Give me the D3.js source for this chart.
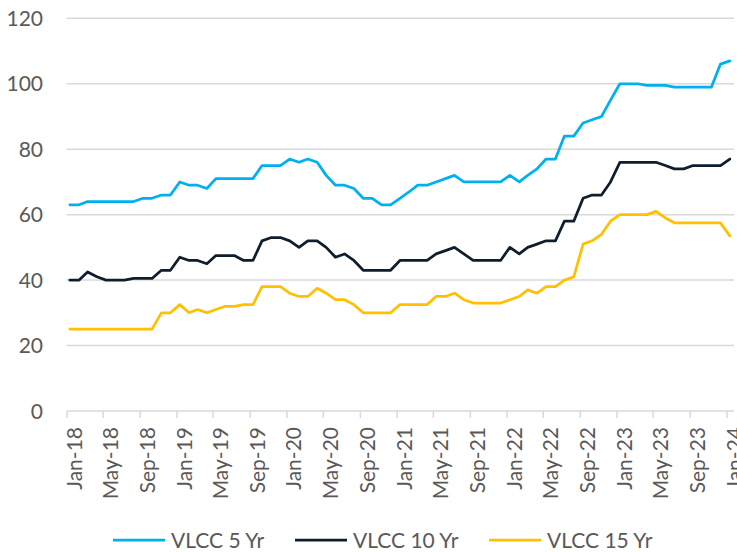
<!DOCTYPE html>
<html>
<head>
<meta charset="utf-8">
<script src="https://cdn.jsdelivr.net/npm/d3@7"></script>
<style>
  html, body { margin: 0; padding: 0; background: #ffffff; }
  svg { display: block; }
  text { font-family: Lato, "Open Sans", sans-serif; fill: #595959; }
</style>
</head>
<body>
<svg id="chart" width="737" height="552"></svg>
<script>
// ---------------- data ----------------
const seriesNames = ["VLCC 5 Yr", "VLCC 10 Yr", "VLCC 15 Yr"];
const seriesColors = ["#00B0F0", "#0F1E2F", "#FFC000"];

// monthly observations, Jan-2018 .. Jan-2024 (73 months)
const startMonth = "2018-01";
const vlcc5 = [
  63, 63, 64, 64, 64, 64, 64, 64, 65, 65, 66, 66,
  70, 69, 69, 68, 71, 71, 71, 71, 71, 75, 75, 75,
  77, 76, 77, 76, 72, 69, 69, 68, 65, 65, 63, 63,
  65, 67, 69, 69, 70, 71, 72, 70, 70, 70, 70, 70,
  72, 70, 72, 74, 77, 77, 84, 84, 88, 89, 90, 95,
  100, 100, 100, 99.5, 99.5, 99.5, 99, 99, 99, 99, 99, 106, 107
];
const vlcc10 = [
  40, 40, 42.5, 41, 40, 40, 40, 40.5, 40.5, 40.5, 43, 43,
  47, 46, 46, 45, 47.5, 47.5, 47.5, 46, 46, 52, 53, 53,
  52, 50, 52, 52, 50, 47, 48, 46, 43, 43, 43, 43,
  46, 46, 46, 46, 48, 49, 50, 48, 46, 46, 46, 46,
  50, 48, 50, 51, 52, 52, 58, 58, 65, 66, 66, 70,
  76, 76, 76, 76, 76, 75, 74, 74, 75, 75, 75, 75, 77
];
const vlcc15 = [
  25, 25, 25, 25, 25, 25, 25, 25, 25, 25, 30, 30,
  32.5, 30, 31, 30, 31, 32, 32, 32.5, 32.5, 38, 38, 38,
  36, 35, 35, 37.5, 36, 34, 34, 32.5, 30, 30, 30, 30,
  32.5, 32.5, 32.5, 32.5, 35, 35, 36, 34, 33, 33, 33, 33,
  34, 35, 37, 36, 38, 38, 40, 41, 51, 52, 54, 58,
  60, 60, 60, 60, 61, 59, 57.5, 57.5, 57.5, 57.5, 57.5, 57.5, 53.5
];
const yTicks = [0, 20, 40, 60, 80, 100, 120];
const xTickLabels = ["Jan-18","May-18","Sep-18","Jan-19","May-19","Sep-19","Jan-20","May-20","Sep-20",
  "Jan-21","May-21","Sep-21","Jan-22","May-22","Sep-22","Jan-23","May-23","Sep-23","Jan-24"];

// ---------------- build ----------------
const parseMonth = d3.timeParse("%Y-%m");
const fmtTick = d3.timeFormat("%b-%y");
const t0 = parseMonth(startMonth);
// observation dates (reported around mid-month on a daily date axis)
const dates = vlcc5.map((_, i) => d3.timeDay.offset(d3.timeMonth.offset(t0, i), 11));
const allSeries = [vlcc5, vlcc10, vlcc15];

const svg = d3.select("#chart");
const x = d3.scaleTime()
  .domain([new Date(2018, 0, 1), new Date(2024, 0, 1)])
  .range([66.5, 726.5]);
const y = d3.scaleLinear().domain([0, 120]).range([411, 18.3]);
const plotRight = 734;

// gridlines
svg.append("g").selectAll("line")
  .data(yTicks.filter(v => v > 0))
  .join("line")
  .attr("x1", 66.5).attr("x2", plotRight)
  .attr("y1", d => y(d)).attr("y2", d => y(d))
  .attr("stroke", "#d9d9d9").attr("stroke-width", 1.5);

// y labels
svg.append("g").selectAll("text")
  .data(yTicks)
  .join("text")
  .attr("x", 43).attr("y", d => y(d))
  .attr("text-anchor", "end")
  .attr("dy", "0.36em")
  .style("font-size", "21px")
  .text(d => d);

// x axis
const tickDates = xTickLabels.map((lab, k) => d3.timeMonth.offset(t0, k * 4));
const xAxis = d3.axisBottom(x)
  .tickValues(tickDates)
  .tickSize(7)
  .tickSizeOuter(0)
  .tickFormat(d => xTickLabels[tickDates.findIndex(t => +t === +d)]);
const gx = svg.append("g").attr("transform", `translate(0,${y(0)})`).call(xAxis);
gx.select(".domain").attr("stroke", "#d9d9d9").attr("stroke-width", 1.5)
  .attr("d", `M66.5,0H${plotRight}`);
gx.selectAll(".tick line").attr("stroke", "#d9d9d9").attr("stroke-width", 1.5);
gx.selectAll(".tick text")
  .attr("fill", "#595959")
  .style("font-size", "21px")
  .attr("text-anchor", "end")
  .attr("transform", "translate(7,16) rotate(-90)")
  .attr("x", 0).attr("y", 0).attr("dy", "0.36em");

// lines
const line = d3.line()
  .x((d, i) => x(dates[i]))
  .y(d => y(d));
svg.append("g").selectAll("path")
  .data(allSeries)
  .join("path")
  .attr("d", d => line(d))
  .attr("fill", "none")
  .attr("stroke", (d, i) => seriesColors[i])
  .attr("stroke-width", 2.75)
  .attr("stroke-linejoin", "round")
  .attr("stroke-linecap", "round");

// legend
const legendX = [113, 295, 489];
const lg = svg.append("g").selectAll("g")
  .data(seriesNames)
  .join("g")
  .attr("transform", (d, i) => `translate(${legendX[i]},540)`);
lg.append("line")
  .attr("x1", 0).attr("x2", 52).attr("y1", 0).attr("y2", 0)
  .attr("stroke", (d, i) => seriesColors[i]).attr("stroke-width", 2.75);
lg.append("text")
  .attr("x", 58).attr("y", 0).attr("dy", "0.36em")
  .style("font-size", "21px")
  .text(d => d);
</script>
</body>
</html>
